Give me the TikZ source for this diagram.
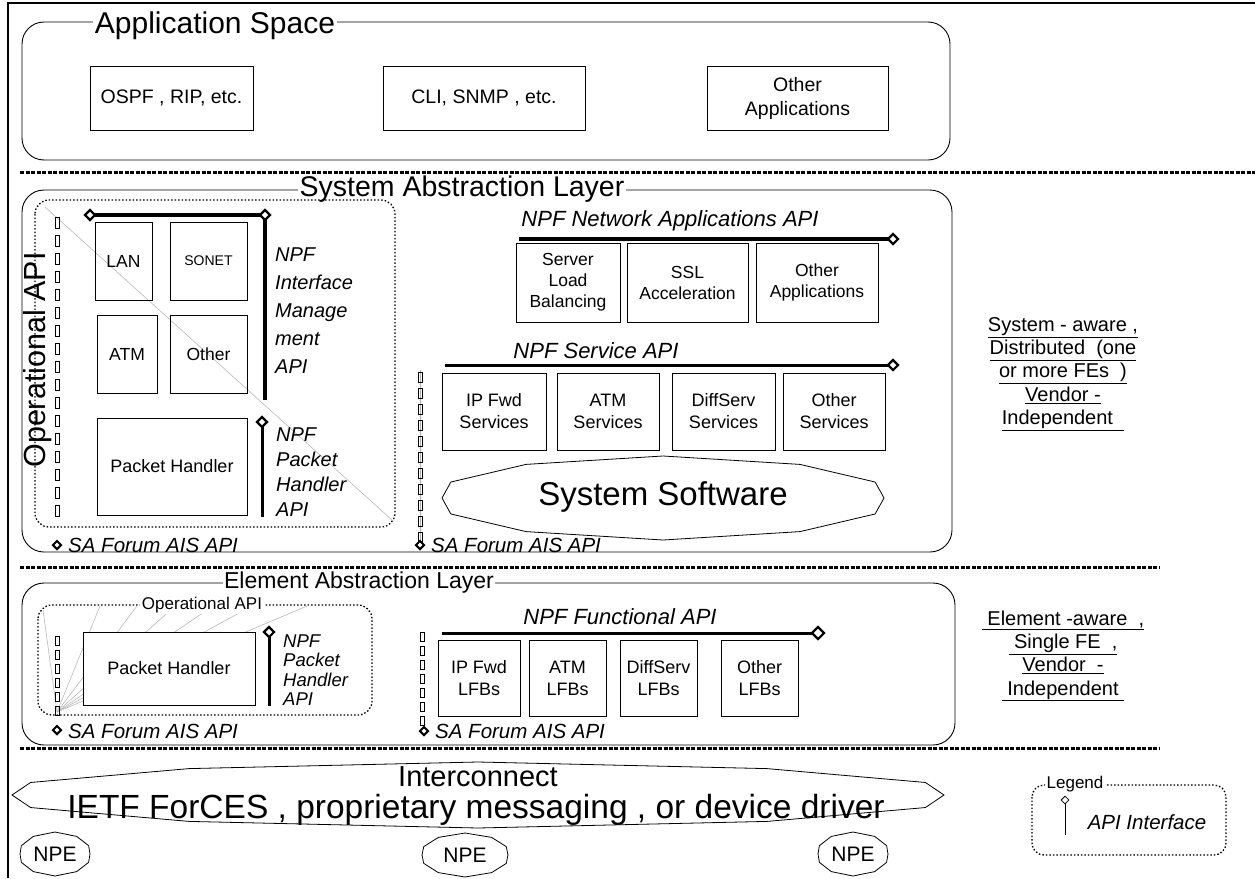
\documentclass[tikz,border=0pt]{standalone}
\usepackage{fontspec}
\setmainfont{Liberation Sans}
\usetikzlibrary{shapes.geometric}

% font size helper: size and baseline skip, in pt
\newcommand\fsz[2]{\fontsize{#1}{#2}\selectfont}
% flattened polygonal oval: centre x, centre y, half width, half height
\newcommand\ovalpoly[4]{%
  \begin{scope}[shift={(#1,#2)}, x=#3pt, y=-#4pt]
    \draw[line width=0.8pt] (-1,0) -- (-0.96,-0.38) -- (-0.62,-0.8) -- (0,-1) -- (0.62,-0.8)
      -- (0.96,-0.38) -- (1,0) -- (0.96,0.38) -- (0.62,0.8) -- (0,1) -- (-0.62,0.8)
      -- (-0.96,0.38) -- cycle;
  \end{scope}}

\begin{document}
\begin{tikzpicture}[x=1pt,y=-1pt,
  every node/.style={inner sep=0pt},
  layer/.style={draw, line width=0.9pt, rounded corners=22pt},
  title/.style={fill=white, inner xsep=1.5pt, inner ysep=1pt},
  box/.style={draw, line width=0.9pt, align=center},
  api/.style={line width=4.5pt},
  apithin/.style={line width=3pt},
  apitip/.style={diamond, draw, fill=white, line width=2.2pt, minimum size=11pt},
  apidot/.style={diamond, draw, fill=white, line width=2pt, minimum size=9pt},
  sepline/.style={line width=3pt, dash pattern=on 4pt off 1.5pt},
  opbox/.style={draw, line width=1.3pt, dash pattern=on 1.5pt off 2pt, rounded corners=14pt},
  fan/.style={draw=gray!55, line width=0.6pt},
  link/.style={line width=0.7pt},
  apilbl/.style={font=\itshape\fsz{22}{25}},
  salbl/.style={anchor=west, font=\itshape\fsz{20.5}{24}},
  prop/.style={align=center, font=\fsz{20}{23.3}}
]
\useasboundingbox (0,0) rectangle (1255,878);

% outer frame (left and top edges)
\draw[line width=2pt] (8,878) -- (8,3) -- (1255,3);

% ---------------- Application space ----------------
\draw[layer] (22,22) rectangle (950,160);
\node[title, font=\fsz{30}{34}] (apptitle) at (215,26) {Application Space};
\node[box, minimum width=163pt, minimum height=64pt, font=\fsz{19.5}{23}] (ospf) at (171.5,98) {OSPF , RIP, etc.};
\node[box, minimum width=202pt, minimum height=64pt, font=\fsz{19.5}{23}] (cli) at (484,98) {CLI, SNMP , etc.};
\node[box, minimum width=181pt, minimum height=64pt, font=\fsz{19.5}{24}] (otherapp) at (797.5,98) {Other\\Applications};

\draw[sepline] (20,172) -- (1255,172);

% ---------------- System abstraction layer ----------------
\draw[layer] (22,190) rectangle (952,552);
\node[title, font=\fsz{28.5}{32}] (systitle) at (462,189) {System Abstraction Layer};

% operational API region (interfaces and packet handler)
\draw[opbox] (35,200) rectangle (395,527);
\draw[fan] (45,207) -- (392,520);
\foreach \y in {217,235,...,505} \draw[link] (55,\y) rectangle ++(4,11);
\node[rotate=90, font=\fsz{30.5}{34}] (opvert) at (38,360) {Operational API};

\node[box, minimum width=57pt, minimum height=78pt, font=\fsz{17.5}{20}] (lan) at (123.5,261) {LAN};
\node[box, minimum width=77pt, minimum height=78pt, font=\fsz{14}{17}] (sonet) at (208.5,261) {SONET};
\node[box, minimum width=60pt, minimum height=78pt, font=\fsz{17.5}{20}] (atm) at (127,354) {ATM};
\node[box, minimum width=77pt, minimum height=78pt, font=\fsz{17.5}{20}] (other) at (208.5,354) {Other};
\node[box, minimum width=150pt, minimum height=97pt, font=\fsz{18}{20}] (ph1) at (172,466.5) {Packet Handler};

% NPF interface management API
\coordinate (im1) at (90,215);
\coordinate (im2) at (265,215);
\coordinate (im3) at (265,400);
\draw[api] (im1) -- (im2) -- (im3);
\node[apitip] at (im1) {};
\node[apitip] at (im2) {};
\node[anchor=west, align=left, font=\itshape\fsz{20}{28}] (imapi) at (275,311) {NPF\\Interface\\Manage\\ment\\API};

% NPF packet handler API
\coordinate (ph1a) at (262,422);
\coordinate (ph1b) at (262,517);
\draw[apithin] (ph1a) -- (ph1b);
\node[apitip] at (ph1a) {};
\node[anchor=west, align=left, font=\itshape\fsz{20}{25}] (ph1api) at (276,472) {NPF\\Packet\\Handler\\API};

\node[apidot] (sa1) at (57,545) {};
\node[salbl] (sa1lbl) at (68,545) {SA Forum AIS API};

% network applications
\node[apilbl] (naapi) at (670,221) {NPF Network Applications API};
\coordinate (na1) at (519,239);
\coordinate (na2) at (893,239);
\draw[api] (na1) -- (na2);
\node[apitip] at (na2) {};
\node[box, minimum width=104pt, minimum height=79pt, font=\fsz{17.5}{21}] (slb) at (568,282.5) {Server\\Load\\Balancing};
\node[box, minimum width=121pt, minimum height=79pt, font=\fsz{17.5}{21}] (ssl) at (687.5,282.5) {SSL\\Acceleration};
\node[box, minimum width=122pt, minimum height=79pt, font=\fsz{17.5}{21}] (othna) at (817,282.5) {Other\\Applications};

% services
\node[apilbl] (svapi) at (596,351) {NPF Service API};
\coordinate (sv1) at (445,365);
\coordinate (sv2) at (893,365);
\draw[apithin] (sv1) -- (sv2);
\node[apitip] at (sv2) {};
\node[box, minimum width=104pt, minimum height=77pt, font=\fsz{18}{22}] (ipf) at (494,411.5) {IP Fwd\\Services};
\node[box, minimum width=102pt, minimum height=77pt, font=\fsz{18}{22}] (atms) at (608,411.5) {ATM\\Services};
\node[box, minimum width=103pt, minimum height=77pt, font=\fsz{18}{22}] (diffs) at (723.5,411.5) {DiffServ\\Services};
\node[box, minimum width=102pt, minimum height=77pt, font=\fsz{18}{22}] (oths) at (834,411.5) {Other\\Services};

\ovalpoly{663}{498}{221}{42}
\node[font=\fsz{33}{36}] (syssw) at (663,497) {System Software};

\draw[gray!60, line width=0.6pt] (420,370) -- (420,540);
\foreach \y in {372,388,...,532} \draw[link] (418,\y) rectangle ++(4,10);
\node[apidot] (sa2) at (420,545) {};
\node[salbl] (sa2lbl) at (431,545) {SA Forum AIS API};

\node[prop] (sysprop) at (1063,374) {\underline{System - aware ,}\\\underline{Distributed\ \ (one}\\\underline{or more FEs\ \ )}\\\underline{Vendor -}\\\underline{Independent\ \ }};

\draw[sepline] (20,567) -- (1160,567);

% ---------------- Element abstraction layer ----------------
\draw[layer] (22,583) rectangle (955,745);
\node[title, font=\fsz{23}{27}] (eltitle) at (359,583) {Element Abstraction Layer};

\draw[opbox] (38,605) rectangle (372,715);
\coordinate (fan0) at (57,712);
\foreach \x/\yy in {43/610,100/606,137/606,175/606,213/606,252/606,307/606}
  \draw[fan] (fan0) -- (\x,\yy);
\node[title, font=\fsz{17}{20}] (op2) at (202,605) {Operational API};
\foreach \y in {636,650,...,706} \draw[link] (55,\y) rectangle ++(4,9);
\node[box, fill=white, minimum width=172pt, minimum height=73pt, font=\fsz{18}{20}] (ph2) at (169,668.5) {Packet Handler};

\coordinate (ph2a) at (269,632);
\coordinate (ph2b) at (269,706);
\draw[apithin] (ph2a) -- (ph2b);
\node[apitip] at (ph2a) {};
\node[anchor=west, align=left, font=\itshape\fsz{18.5}{19.5}] (ph2api) at (283,670) {NPF\\Packet\\Handler\\API};

\node[apidot] (sa3) at (57,730) {};
\node[salbl] (sa3lbl) at (68,731) {SA Forum AIS API};

\node[apilbl] (fnapi) at (620,617) {NPF Functional API};
\coordinate (fn1) at (442,633);
\coordinate (fn2) at (818,633);
\draw[apithin] (fn1) -- (fn2);
\node[apitip, minimum size=13pt] at (fn2) {};
\node[box, minimum width=82pt, minimum height=76pt, font=\fsz{18}{22}] (ipl) at (479,678) {IP Fwd\\LFBs};
\node[box, minimum width=77pt, minimum height=76pt, font=\fsz{18}{22}] (atml) at (567.5,678) {ATM\\LFBs};
\node[box, minimum width=77pt, minimum height=76pt, font=\fsz{18}{22}] (diffl) at (658.5,678) {DiffServ\\LFBs};
\node[box, minimum width=77pt, minimum height=76pt, font=\fsz{18}{22}] (othl) at (759.5,678) {Other\\LFBs};

\foreach \y in {632,646,...,716} \draw[link] (420,\y) rectangle ++(4,9);
\node[apidot] (sa4) at (424,731) {};
\node[salbl] (sa4lbl) at (435,731) {SA Forum AIS API};

\node[prop] (elprop) at (1063,656) {\underline{\ Element -aware\ \ ,}\\\underline{\ Single FE\ \ ,}\\\underline{Vendor\ \ -}\\\underline{\ Independent\ }};

\draw[sepline] (20,748) -- (1160,748);

% ---------------- Interconnect and NPEs ----------------
\ovalpoly{478}{795}{466}{33}
\node[font=\fsz{29}{32}] (ic) at (478,777) {Interconnect};
\node[font=\fsz{33.5}{38}] (icsub) at (476,810) {IETF ForCES , proprietary messaging , or device driver};

\ovalpoly{55}{854}{35}{22}
\node[font=\fsz{21}{24}] (npe1) at (55,854) {NPE};
\ovalpoly{465}{855}{43}{22}
\node[font=\fsz{21}{24}] (npe2) at (465,855) {NPE};
\ovalpoly{853}{854}{35}{22}
\node[font=\fsz{21}{24}] (npe3) at (853,854) {NPE};

% legend
\draw[opbox, rounded corners=12pt] (1032,785) rectangle (1226,855);
\node[title, font=\fsz{17}{20}] (legend) at (1075,784) {Legend};
\coordinate (lg1) at (1065,800);
\coordinate (lg2) at (1065,835);
\draw[line width=0.8pt] (lg1) -- (lg2);
\node[diamond, draw, fill=white, line width=0.8pt, minimum size=8pt] at (lg1) {};
\node[font=\itshape\fsz{20.5}{24}] (apiif) at (1147,822) {API Interface};
\end{tikzpicture}
\end{document}
